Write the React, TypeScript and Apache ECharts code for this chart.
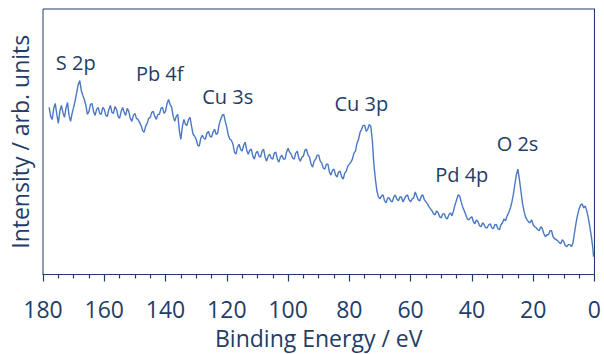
import React, { useEffect, useRef } from "react";
import * as echarts from "echarts";

const energies = [
  178, 177.5, 177, 176.5, 176, 175.5, 175, 174.5, 174, 173.5, 173, 172.5, 172, 171.5, 171, 170.5,
  170, 169.5, 169, 168.5, 168, 167.5, 167, 166.5, 166, 165.5, 165, 164.5, 164, 163.5, 163, 162.5,
  162, 161.5, 161, 160.5, 160, 159.5, 159, 158.5, 158, 157.5, 157, 156.5, 156, 155.5, 155, 154.5,
  154, 153.5, 153, 152.5, 152, 151.5, 151, 150.5, 150, 149.5, 149, 148.5, 148, 147.5, 147, 146.5,
  146, 145.5, 145, 144.5, 144, 143.5, 143, 142.5, 142, 141.5, 141, 140.5, 140, 139.5, 139, 138.5,
  138, 137.5, 137, 136.5, 136, 135.5, 135, 134.5, 134, 133.5, 133, 132.5, 132, 131.5, 131, 130.5,
  130, 129.5, 129, 128.5, 128, 127.5, 127, 126.5, 126, 125.5, 125, 124.5, 124, 123.5, 123, 122.5,
  122, 121.5, 121, 120.5, 120, 119.5, 119, 118.5, 118, 117.5, 117, 116.5, 116, 115.5, 115, 114.5,
  114, 113.5, 113, 112.5, 112, 111.5, 111, 110.5, 110, 109.5, 109, 108.5, 108, 107.5, 107, 106.5,
  106, 105.5, 105, 104.5, 104, 103.5, 103, 102.5, 102, 101.5, 101, 100.5, 100, 99.5, 99, 98.5,
  98, 97.5, 97, 96.5, 96, 95.5, 95, 94.5, 94, 93.5, 93, 92.5, 92, 91.5, 91, 90.5,
  90, 89.5, 89, 88.5, 88, 87.5, 87, 86.5, 86, 85.5, 85, 84.5, 84, 83.5, 83, 82.5,
  82, 81.5, 81, 80.5, 80, 79.5, 79, 78.5, 78, 77.5, 77, 76.5, 76, 75.5, 75, 74.5,
  74, 73.5, 73, 72.5, 72, 71.5, 71, 70.5, 70, 69.5, 69, 68.5, 68, 67.5, 67, 66.5,
  66, 65.5, 65, 64.5, 64, 63.5, 63, 62.5, 62, 61.5, 61, 60.5, 60, 59.5, 59, 58.5,
  58, 57.5, 57, 56.5, 56, 55.5, 55, 54.5, 54, 53.5, 53, 52.5, 52, 51.5, 51, 50.5,
  50, 49.5, 49, 48.5, 48, 47.5, 47, 46.5, 46, 45.5, 45, 44.5, 44, 43.5, 43, 42.5,
  42, 41.5, 41, 40.5, 40, 39.5, 39, 38.5, 38, 37.5, 37, 36.5, 36, 35.5, 35, 34.5,
  34, 33.5, 33, 32.5, 32, 31.5, 31, 30.5, 30, 29.5, 29, 28.5, 28, 27.5, 27, 26.5,
  26, 25.5, 25, 24.5, 24, 23.5, 23, 22.5, 22, 21.5, 21, 20.5, 20, 19.5, 19, 18.5,
  18, 17.5, 17, 16.5, 16, 15.5, 15, 14.5, 14, 13.5, 13, 12.5, 12, 11.5, 11, 10.5,
  10, 9.5, 9, 8.5, 8, 7.5, 7, 6.5, 6, 5.5, 5, 4.5, 4, 3.5, 3, 2.5,
  2, 1.5, 1, 0.5, 0.3,
];

const intensities = [
  168, 159, 156, 167, 172, 161, 152, 164, 170, 163, 158, 167, 173, 160, 154, 162,
  168, 175, 183, 191, 195, 185, 180, 176, 170, 161, 164, 171, 172, 164, 160, 166,
  168, 162, 161, 168, 166, 160, 159, 166, 170, 163, 162, 169, 166, 159, 157, 164,
  168, 163, 160, 167, 164, 157, 154, 160, 162, 157, 156, 153, 150, 145, 143, 149,
  152, 157, 158, 163, 164, 159, 156, 161, 161, 167, 168, 162, 164, 172, 176, 171,
  168, 159, 154, 159, 161, 145, 136, 149, 156, 151, 150, 156, 158, 149, 141, 139,
  136, 130, 129, 137, 140, 137, 136, 142, 144, 139, 138, 143, 146, 141, 142, 151,
  156, 160, 161, 154, 148, 140, 136, 135, 131, 123, 121, 128, 131, 126, 124, 130,
  133, 125, 121, 125, 126, 119, 116, 122, 124, 119, 118, 124, 126, 118, 114, 119,
  121, 117, 116, 122, 123, 116, 113, 118, 120, 116, 116, 123, 127, 123, 121, 117,
  116, 122, 124, 117, 114, 118, 119, 125, 126, 120, 118, 111, 108, 114, 116, 120,
  120, 114, 112, 107, 106, 111, 111, 103, 100, 105, 106, 100, 98, 103, 104, 98,
  96, 102, 104, 109, 111, 113, 116, 122, 124, 132, 136, 143, 146, 150, 150, 144,
  146, 151, 149, 135, 111, 96, 84, 78, 76, 79, 80, 74, 72, 77, 77, 74,
  73, 78, 80, 76, 74, 78, 78, 73, 76, 79, 80, 75, 73, 76, 77, 83,
  79, 75, 74, 79, 80, 75, 73, 71, 68, 66, 64, 61, 60, 64, 62, 58,
  57, 61, 61, 57, 56, 60, 62, 59, 64, 70, 75, 80, 79, 73, 68, 64,
  60, 56, 55, 57, 58, 53, 51, 55, 53, 49, 48, 52, 50, 47, 47, 50,
  51, 47, 46, 50, 50, 46, 45, 50, 52, 56, 54, 59, 62, 66, 72, 80,
  90, 100, 106, 96, 84, 72, 64, 58, 55, 53, 52, 55, 50, 48, 47, 45,
  44, 48, 46, 41, 38, 40, 40, 44, 44, 38, 36, 35, 34, 32, 31, 35,
  33, 29, 28, 30, 30, 28, 32, 42, 52, 60, 66, 70, 71, 67, 69, 64,
  57, 48, 38, 26, 18,
];

const peakLabels = ["S 2p", "Pb 4f", "Cu 3s", "Cu 3p", "Pd 4p", "O 2s"];
const peakLabelEnergies = [169.3, 141.9, 119.7, 76.1, 43.3, 25.1];
const peakLabelHeights = [213, 202, 179, 171.5, 101, 131.5];

const xTicks = { min: 0, max: 180, interval: 20 };

const TEXT = "#1f3d68";
const LINE = "#4a78c2";
const FONT = "Open Sans";

export default function App() {
  const ref = useRef<HTMLDivElement>(null);
  useEffect(() => {
    document.body.style.margin = "0";
    const chart = echarts.init(ref.current!, null, { renderer: "svg" });
    const data = energies.map((e, i) => [e, intensities[i]]);
    chart.setOption({
      animation: false,
      backgroundColor: "#ffffff",
      textStyle: { fontFamily: FONT },
      grid: {
        left: 41,
        right: 8,
        top: 9,
        bottom: 78,
        show: true,
        borderColor: TEXT,
        borderWidth: 1,
        containLabel: false,
      },
      xAxis: {
        type: "value",
        min: xTicks.min,
        max: xTicks.max,
        interval: xTicks.interval,
        inverse: true,
        name: "Binding Energy / eV",
        nameLocation: "middle",
        nameGap: 52,
        nameTextStyle: { color: TEXT, fontSize: 23, fontFamily: FONT, lineHeight: 22 },
        axisLine: { show: true, onZero: false, lineStyle: { color: TEXT, width: 1 } },
        axisTick: { show: true, inside: false, length: 7, lineStyle: { color: TEXT, width: 1.2 } },
        minorTick: { show: true, splitNumber: 4, length: 4, lineStyle: { color: TEXT, width: 1.2 } },
        axisLabel: { color: TEXT, fontSize: 23, margin: 24, fontFamily: FONT, lineHeight: 20 },
        splitLine: { show: false },
      },
      yAxis: {
        type: "value",
        min: 0,
        max: 267,
        name: "Intensity / arb. units",
        nameLocation: "middle",
        nameGap: 12,
        nameTextStyle: { color: TEXT, fontSize: 23, fontFamily: FONT },
        axisLine: { show: true, lineStyle: { color: TEXT, width: 1 } },
        axisTick: { show: false },
        axisLabel: { show: false },
        splitLine: { show: false },
      },
      series: [
        {
          type: "line",
          data,
          showSymbol: false,
          symbol: "none",
          lineStyle: { color: LINE, width: 1.4 },
          silent: true,
          markPoint: {
            symbol: "circle",
            symbolSize: 0,
            silent: true,
            label: {
              show: true,
              position: "inside",
              color: TEXT,
              fontSize: 20,
              fontFamily: FONT,
            },
            data: peakLabels.map((name, i) => ({
              name,
              coord: [peakLabelEnergies[i], peakLabelHeights[i]],
              label: { formatter: name },
            })),
          },
        },
      ],
    });
    return () => chart.dispose();
  }, []);
  return <div ref={ref} style={{ width: 604, height: 354, position: "fixed", left: 0, top: 0 }} />;
}
